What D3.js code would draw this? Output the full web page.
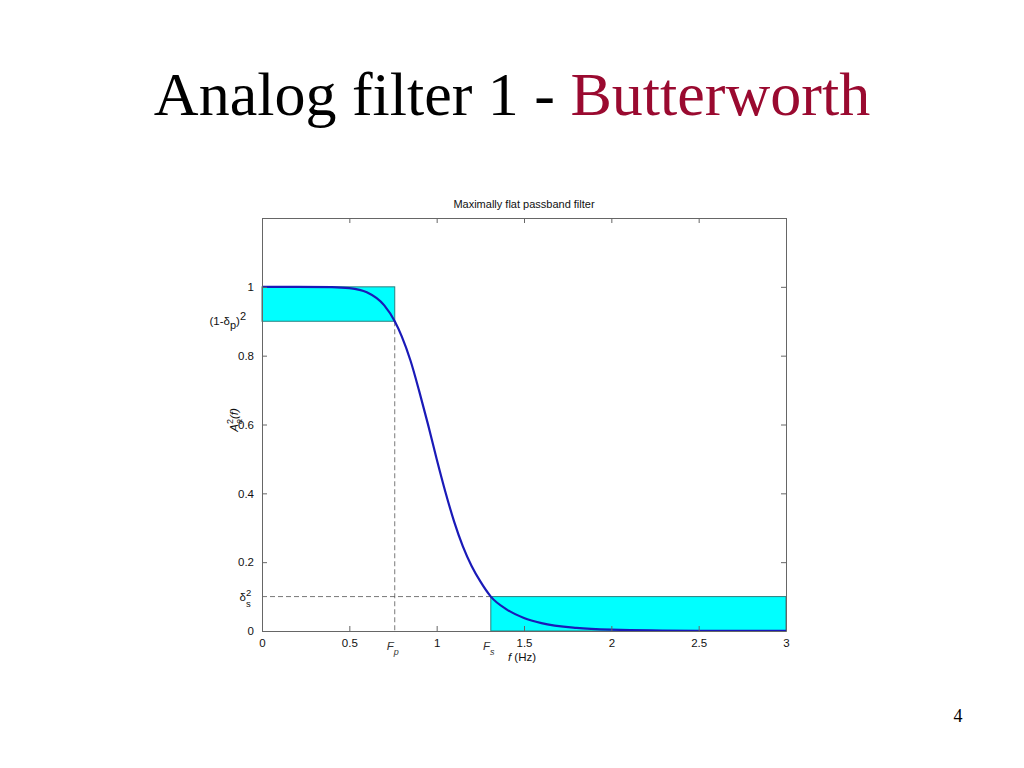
<!DOCTYPE html>
<html>
<head>
<meta charset="utf-8">
<script src="https://cdn.jsdelivr.net/npm/d3@7"></script>
<style>
  html, body { margin: 0; padding: 0; background: #fff; }
  svg { display: block; }
</style>
</head>
<body>
<svg id="chart" width="1024" height="768"></svg>
<script>
// ---- data ----
const freq = [0, 0.2, 0.4, 0.5, 0.6, 0.7, 0.76, 0.8, 0.85, 0.9, 0.95, 1.0, 1.05, 1.1, 1.15, 1.2, 1.25, 1.31, 1.4, 1.5, 1.6, 1.8, 2.0, 2.5, 3.0];
const gain = [1, 1.0, 0.999, 0.996, 0.984, 0.946, 0.90, 0.856, 0.786, 0.697, 0.601, 0.50, 0.404, 0.318, 0.246, 0.189, 0.144, 0.10, 0.063, 0.038, 0.023, 0.009, 0.004, 0.0007, 0.0002];
const xTicks = [0, 0.5, 1, 1.5, 2, 2.5, 3];
const yTicks = [0, 0.2, 0.4, 0.6, 0.8, 1];
const passEdge = 0.76;   // Fp
const stopEdge = 1.31;   // Fs
const passLevel = 0.9;   // (1-δp)^2
const stopLevel = 0.1;   // δs^2
const xDomain = [0, 3];
const yDomain = [0, 1.2];

const svg = d3.select("#chart");

// ---- slide title ----
const title = svg.append("text")
  .attr("x", 512).attr("y", 115)
  .attr("text-anchor", "middle")
  .attr("font-family", "'Liberation Serif', 'DejaVu Serif', serif")
  .attr("font-size", 62);
title.append("tspan").attr("fill", "#000").text("Analog filter 1 - ");
title.append("tspan").attr("fill", "#9a0a30").text("Butterworth");

svg.append("text")
  .attr("x", 958).attr("y", 722)
  .attr("text-anchor", "middle")
  .attr("font-family", "'Liberation Serif', serif")
  .attr("font-size", 18)
  .text("4");

// ---- plot ----
const L = 262, R = 786, T = 218, B = 631;
const x = d3.scaleLinear().domain(xDomain).range([L, R]);
const y = d3.scaleLinear().domain(yDomain).range([B, T]);
const font = "'Liberation Sans', Arial, sans-serif";
const axisColor = "#666";
const fs = 11.5;

const g = svg.append("g");

// rectangles
g.append("rect")
  .attr("x", x(0)).attr("y", y(1))
  .attr("width", x(passEdge) - x(0)).attr("height", y(passLevel) - y(1))
  .attr("fill", "#00ffff").attr("stroke", "#2b7f7f").attr("stroke-width", 1);
g.append("rect")
  .attr("x", x(stopEdge)).attr("y", y(stopLevel))
  .attr("width", x(3) - x(stopEdge)).attr("height", y(0) - y(stopLevel))
  .attr("fill", "#00ffff").attr("stroke", "#2b7f7f").attr("stroke-width", 1);

// dashed guides
g.append("line")
  .attr("x1", x(passEdge)).attr("x2", x(passEdge))
  .attr("y1", y(passLevel)).attr("y2", y(0))
  .attr("stroke", "#555").attr("stroke-width", 0.8).attr("stroke-dasharray", "5,3");
g.append("line")
  .attr("x1", x(0)).attr("x2", x(stopEdge))
  .attr("y1", y(stopLevel)).attr("y2", y(stopLevel))
  .attr("stroke", "#555").attr("stroke-width", 0.8).attr("stroke-dasharray", "5,3");

// curve
const line = d3.line().x((d, i) => x(freq[i])).y(d => y(d)).curve(d3.curveMonotoneX);
g.append("path")
  .datum(gain)
  .attr("d", line)
  .attr("fill", "none")
  .attr("stroke", "#1a1ab8")
  .attr("stroke-width", 2.2);

// axes (inward ticks, box)
const axB = d3.axisBottom(x).tickValues(xTicks).tickSizeInner(-5).tickSizeOuter(0).tickPadding(8).tickFormat(d3.format("~g"));
const axT = d3.axisTop(x).tickValues(xTicks).tickSizeInner(-5).tickSizeOuter(0).tickFormat("");
const axLft = d3.axisLeft(y).tickValues(yTicks).tickSizeInner(-5).tickSizeOuter(0).tickPadding(8).tickFormat(d3.format("~g"));
const axRt = d3.axisRight(y).tickValues(yTicks).tickSizeInner(-5).tickSizeOuter(0).tickFormat("");

function styleAxis(sel) {
  sel.selectAll("path").attr("stroke", axisColor);
  sel.selectAll("line").attr("stroke", axisColor);
  sel.selectAll("text").attr("font-family", font).attr("font-size", fs).attr("fill", "#111");
}
styleAxis(svg.append("g").attr("transform", `translate(0,${B})`).call(axB));
styleAxis(svg.append("g").attr("transform", `translate(0,${T})`).call(axT));
styleAxis(svg.append("g").attr("transform", `translate(${L},0)`).call(axLft));
styleAxis(svg.append("g").attr("transform", `translate(${R},0)`).call(axRt));

// plot title
svg.append("text")
  .attr("x", (L + R) / 2).attr("y", 208)
  .attr("text-anchor", "middle")
  .attr("font-family", font).attr("font-size", 11).attr("fill", "#111")
  .text("Maximally flat passband filter");

// special y labels
const pl = svg.append("text")
  .attr("x", 246).attr("y", y(passLevel) + 4)
  .attr("text-anchor", "end")
  .attr("font-family", font).attr("font-size", fs).attr("fill", "#111");
pl.append("tspan").text("(1-δ");
pl.append("tspan").attr("dy", 4).attr("font-size", 11).text("p");
pl.append("tspan").attr("dy", -4).text(")");
pl.append("tspan").attr("dy", -5).attr("font-size", 11).text("2");

const sy = y(stopLevel);
svg.append("text")
  .attr("x", 246).attr("y", sy + 4)
  .attr("text-anchor", "end")
  .attr("font-family", font).attr("font-size", fs).attr("fill", "#111")
  .text("δ");
svg.append("text")
  .attr("x", 246).attr("y", sy - 1)
  .attr("font-family", font).attr("font-size", 9.5).attr("fill", "#111")
  .text("2");
svg.append("text")
  .attr("x", 246).attr("y", sy + 10)
  .attr("font-family", font).attr("font-size", 9.5).attr("fill", "#111")
  .text("s");

// special x labels
function edgeLabel(xv, sub) {
  const t = svg.append("text")
    .attr("x", x(xv) - 2).attr("y", 650)
    .attr("text-anchor", "middle")
    .attr("font-family", font).attr("font-size", fs).attr("fill", "#333")
    .attr("font-style", "italic");
  t.append("tspan").text("F");
  t.append("tspan").attr("dy", 5).attr("font-size", 9).text(sub);
}
edgeLabel(passEdge, "p");
edgeLabel(stopEdge, "s");

// x axis label
const xl = svg.append("text")
  .attr("x", 522).attr("y", 661)
  .attr("text-anchor", "middle")
  .attr("font-family", font).attr("font-size", fs).attr("fill", "#111");
xl.append("tspan").attr("font-style", "italic").text("f");
xl.append("tspan").text(" (Hz)");

// y axis label (rotated)
const yl = svg.append("text")
  .attr("transform", "translate(238,420) rotate(-90)")
  .attr("text-anchor", "middle")
  .attr("font-family", font).attr("font-size", fs).attr("fill", "#111");
yl.append("tspan").attr("font-style", "italic").text("A");
yl.append("tspan").attr("font-size", 9).attr("dy", 4).attr("font-style", "italic").text("a");
yl.append("tspan").attr("font-size", 9).attr("dx", -5).attr("dy", -9).text("2");
yl.append("tspan").attr("dy", 5).attr("font-style", "italic").text("(f)");
</script>
</body>
</html>
